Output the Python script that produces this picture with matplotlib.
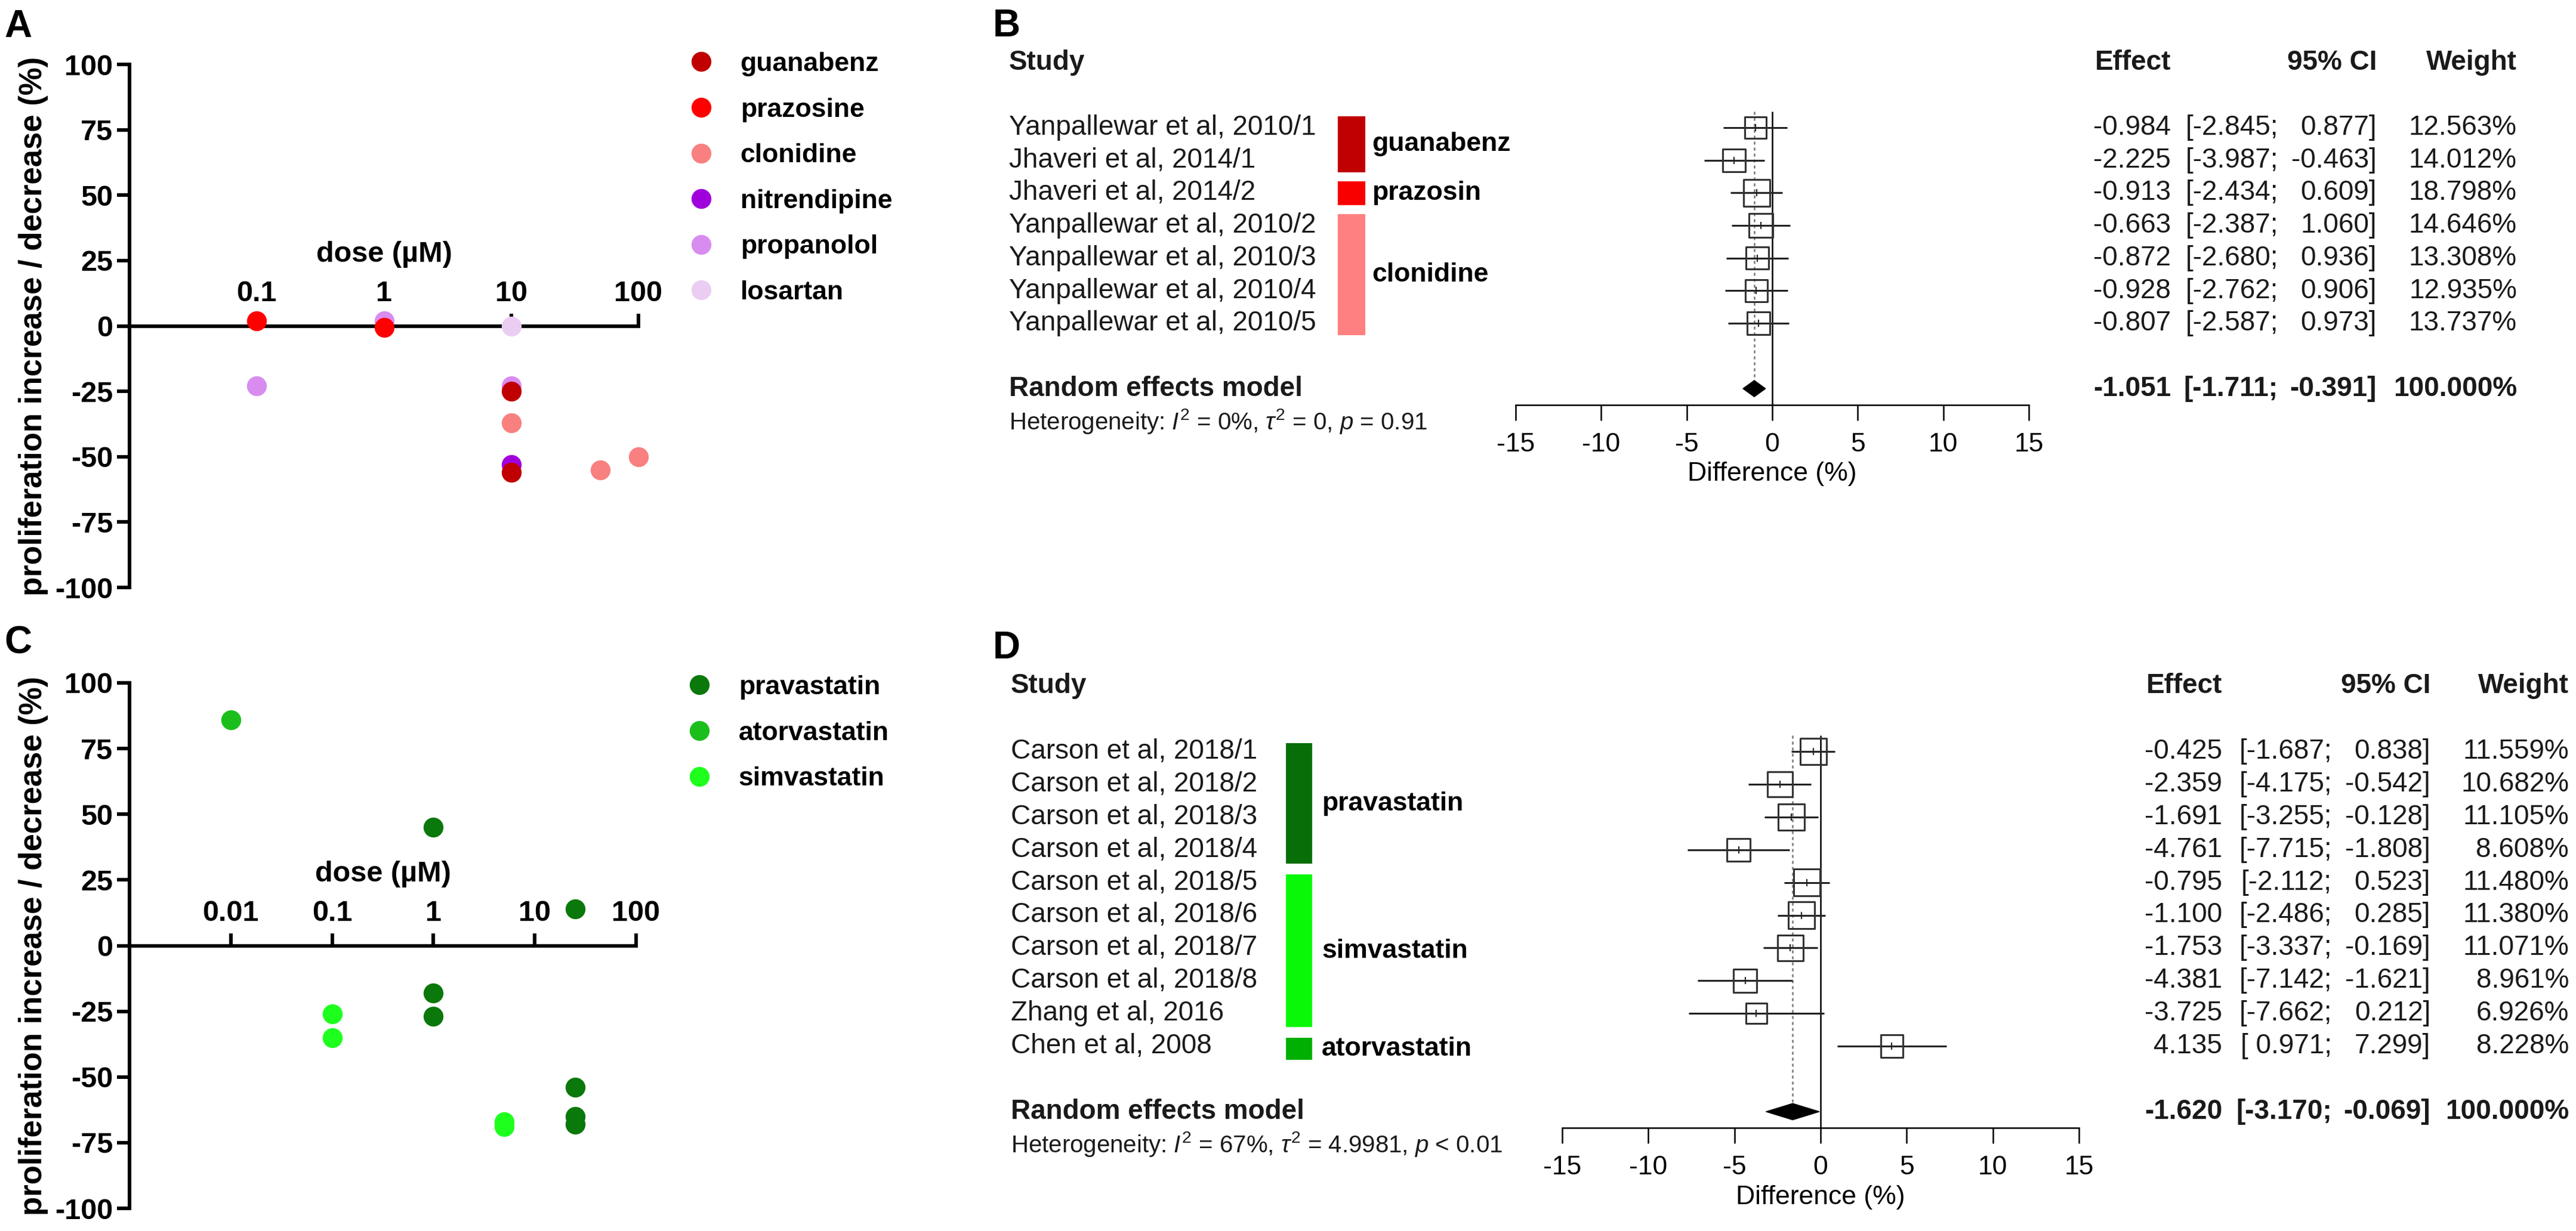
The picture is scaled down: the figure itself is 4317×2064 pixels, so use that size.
import matplotlib
matplotlib.use("Agg")
import matplotlib.pyplot as plt
import matplotlib.transforms as mtransforms
from matplotlib.patches import Rectangle
from matplotlib.lines import Line2D
from matplotlib.ticker import FixedLocator, FixedFormatter, NullLocator
import numpy as np

plt.rcParams['font.family'] = ['Liberation Sans', 'DejaVu Sans']
plt.rcParams['axes.unicode_minus'] = False
plt.rcParams['mathtext.fontset'] = 'custom'
plt.rcParams['mathtext.rm'] = 'Liberation Sans'
plt.rcParams['mathtext.it'] = 'Liberation Sans:italic'

W, H, DPI = 4317, 2064, 100

# panel A - antihypertensives, proliferation vs dose
a_drugs = ["guanabenz", "prazosine", "clonidine", "nitrendipine", "propanolol", "losartan"]
a_colors = ["#c00000", "#ff0000", "#f88080", "#a000dc", "#d98cf0", "#ebcdf3"]
a_dose = [[10, 10], [0.1, 1], [10, 50, 100], [10], [0.1, 1, 10], [10]]
a_resp = [[-25, -56], [2, -0.5], [-37, -55, -50], [-53], [-23, 2, -23], [0]]
a_ticks = [0.1, 1, 10, 100]
a_ticklabels = ["0.1", "1", "10", "100"]

# panel C - statins
c_drugs = ["pravastatin", "atorvastatin", "simvastatin"]
c_colors = ["#0a780a", "#1cbe1c", "#1eff1e"]
c_dose = [[1, 25, 1, 1, 25, 25, 25], [0.01], [0.1, 0.1, 5, 5]]
c_resp = [[45, 14, -18, -27, -54, -65, -68], [86], [-26, -35, -67, -69]]
c_ticks = [0.01, 0.1, 1, 10, 100]
c_ticklabels = ["0.01", "0.1", "1", "10", "100"]

# panel B - meta-analysis antihypertensives
b_studies = ["Yanpallewar et al, 2010/1", "Jhaveri et al, 2014/1", "Jhaveri et al, 2014/2",
             "Yanpallewar et al, 2010/2", "Yanpallewar et al, 2010/3",
             "Yanpallewar et al, 2010/4", "Yanpallewar et al, 2010/5"]
b_effect = [-0.984, -2.225, -0.913, -0.663, -0.872, -0.928, -0.807]
b_lower = [-2.845, -3.987, -2.434, -2.387, -2.680, -2.762, -2.587]
b_upper = [0.877, -0.463, 0.609, 1.060, 0.936, 0.906, 0.973]
b_weight = [12.563, 14.012, 18.798, 14.646, 13.308, 12.935, 13.737]
b_summary = [-1.051, -1.711, -0.391, 100.0]   # effect, lower, upper, weight
b_groups = ["guanabenz", "prazosin", "clonidine"]
b_group_rows = [(0, 1), (2, 2), (3, 6)]
b_group_colors = ["#c00000", "#f80000", "#ff8080"]
b_het = r"Heterogeneity: $I^2$ = 0%, $\tau^2$ = 0, $p$ = 0.91"

# panel D - meta-analysis statins
d_studies = ["Carson et al, 2018/1", "Carson et al, 2018/2", "Carson et al, 2018/3",
             "Carson et al, 2018/4", "Carson et al, 2018/5", "Carson et al, 2018/6",
             "Carson et al, 2018/7", "Carson et al, 2018/8", "Zhang et al, 2016",
             "Chen et al, 2008"]
d_effect = [-0.425, -2.359, -1.691, -4.761, -0.795, -1.100, -1.753, -4.381, -3.725, 4.135]
d_lower = [-1.687, -4.175, -3.255, -7.715, -2.112, -2.486, -3.337, -7.142, -7.662, 0.971]
d_upper = [0.838, -0.542, -0.128, -1.808, 0.523, 0.285, -0.169, -1.621, 0.212, 7.299]
d_weight = [11.559, 10.682, 11.105, 8.608, 11.480, 11.380, 11.071, 8.961, 6.926, 8.228]
d_summary = [-1.620, -3.170, -0.069, 100.0]
d_groups = ["pravastatin", "simvastatin", "atorvastatin"]
d_group_rows = [(0, 3), (4, 8), (9, 9)]
d_group_colors = ["#086e08", "#08f808", "#00b000"]
d_het = r"Heterogeneity: $I^2$ = 67%, $\tau^2$ = 4.9981, $p$ < 0.01"

fig = plt.figure(figsize=(W / DPI, H / DPI), dpi=DPI)


def px_axes(x0, y0, x1, y1):
    return fig.add_axes([x0 / W, 1 - y1 / H, (x1 - x0) / W, (y1 - y0) / H])


def dose_panel(box, xmin, ticks, ticklabels, drugs, colors, doses, resps, legend_xy):
    ax = px_axes(*box)
    ax.set_xscale("log")
    ax.set_xlim(xmin, 100)
    ax.set_ylim(-100, 100)
    ax.patch.set_visible(False)
    ax.spines["right"].set_visible(False)
    ax.spines["bottom"].set_visible(False)
    ax.spines["top"].set_position(("data", 0))
    for s in ("top", "left"):
        ax.spines[s].set_linewidth(4.3)
    ax.xaxis.set_ticks_position("top")
    ax.xaxis.set_label_position("top")
    ax.xaxis.set_major_locator(FixedLocator(ticks))
    ax.xaxis.set_major_formatter(FixedFormatter(ticklabels))
    ax.xaxis.set_minor_locator(NullLocator())
    ax.set_yticks(np.arange(-100, 101, 25))
    ax.tick_params(axis="both", width=4.3, length=15, labelsize=35)
    ax.tick_params(axis="x", pad=8)
    ax.tick_params(axis="y", pad=5)
    for lab in ax.get_xticklabels() + ax.get_yticklabels():
        lab.set_fontweight("bold")
    ax.set_xlabel("dose (µM)", fontsize=35, fontweight="bold", labelpad=22)
    ax.set_ylabel("proliferation increase / decrease (%)", fontsize=38,
                  fontweight="bold", labelpad=8)
    # later entries drawn first so the legend's first drugs sit on top
    for i in range(len(drugs) - 1, -1, -1):
        ax.plot(doses[i], resps[i], ls="", marker="o", ms=24, color=colors[i],
                mec="none", clip_on=False, zorder=4)
    handles = [Line2D([], [], ls="", marker="o", ms=24, color=c, mec="none") for c in colors]
    fig.legend(handles, drugs, loc="upper left",
               bbox_to_anchor=(legend_xy[0] / W, 1 - legend_xy[1] / H),
               frameon=False, prop={"size": 32, "weight": "bold"},
               handlelength=1.0, handletextpad=0.97, borderpad=0, borderaxespad=0,
               labelspacing=0.80)
    return ax


def forest_panel(x0, x1, row0, pitch, studies, eff, lo, hi, wt, summary, het,
                 groups, group_rows, group_colors, cols):
    n = len(studies)
    ax = px_axes(x0, row0 - 2.5 * pitch, x1, row0 + (n + 1.5) * pitch)
    ax.set_xlim(-15, 15)
    ax.set_ylim(n + 1.5, -2.5)
    ax.patch.set_visible(False)
    for s in ("top", "right", "left"):
        ax.spines[s].set_visible(False)
    ax.spines["bottom"].set_linewidth(1.8)
    ax.set_yticks([])
    ax.set_xticks(np.arange(-15, 16, 5))
    ax.tick_params(axis="x", length=19, width=1.8, labelsize=32, pad=14)
    ax.set_xlabel("Difference (%)", fontsize=32, labelpad=6)

    rows = np.arange(n)
    wt = np.asarray(wt)
    ax.hlines(rows, lo, hi, color="#222222", lw=2.2, zorder=2)
    sizes = (32 * np.sqrt(wt / wt.max())) ** 2
    ax.scatter(eff, rows, s=sizes, marker="s", facecolor="none",
               edgecolor="#333333", linewidths=2.2, zorder=3)
    ax.plot(eff, rows, ls="", marker="|", ms=8, mew=1.5, color="#222222", zorder=4)
    m, l, u, w_tot = summary
    ax.fill([l, m, u, m], [n + 1, n + 0.75, n + 1, n + 1.25], color="black", zorder=4)
    ax.vlines(0, -0.5, n + 1.5, color="black", lw=1.8, zorder=1)
    ax.vlines(m, -0.5, n + 1, color="#777777", lw=1.8, ls=(0, (2, 2)), zorder=1)

    tr = mtransforms.blended_transform_factory(fig.transFigure, ax.transData)
    fs = 33
    kw = dict(transform=tr, va="center", fontsize=fs, clip_on=False, color="#1a1a1a")
    ax.text(cols["study"] / W, -2, "Study", fontweight="bold", ha="left", **kw)
    for r, s in enumerate(studies):
        ax.text(cols["study"] / W, r, s, ha="left", **kw)
    ax.text(cols["study"] / W, n + 1, "Random effects model", fontweight="bold", ha="left", **kw)
    kw_het = dict(kw)
    kw_het["fontsize"] = 29
    ax.text(cols["study"] / W, n + 2, het, ha="left", **kw_het)

    # drug group bars
    for g, (r0, r1), c in zip(groups, group_rows, group_colors):
        top = r0 - cols["pad_top"]
        bot = r1 + cols["pad_bot"]
        ax.add_patch(Rectangle((cols["bar0"] / W, top), (cols["bar1"] - cols["bar0"]) / W,
                               bot - top, transform=tr, color=c, clip_on=False, lw=0))
        ax.text(cols["glabel"] / W, (top + bot) / 2, g, transform=tr, ha="left", va="center",
                fontsize=32, fontweight="bold", clip_on=False)

    # table columns
    ax.text(cols["effect"] / W, -2, "Effect", ha="right", fontweight="bold", **kw)
    ax.text(cols["ci"] / W, -2, "95% CI", ha="right", fontweight="bold", **kw)
    ax.text(cols["weight"] / W, -2, "Weight", ha="right", fontweight="bold", **kw)
    gap = 165
    for r in range(n):
        ax.text(cols["effect"] / W, r, f"{eff[r]:.3f}", ha="right", **kw)
        ax.text((cols["ci"] - gap) / W, r, f"[{lo[r]:6.3f};", ha="right", **kw)
        ax.text(cols["ci"] / W, r, f"{hi[r]:.3f}]", ha="right", **kw)
        ax.text(cols["weight"] / W, r, f"{wt[r]:.3f}%", ha="right", **kw)
    ax.text(cols["effect"] / W, n + 1, f"{m:.3f}", ha="right", fontweight="bold", **kw)
    ax.text((cols["ci"] - gap) / W, n + 1, f"[{l:.3f};", ha="right", fontweight="bold", **kw)
    ax.text(cols["ci"] / W, n + 1, f"{u:.3f}]", ha="right", fontweight="bold", **kw)
    ax.text(cols["weight"] / W, n + 1, f"{w_tot:.3f}%", ha="right", fontweight="bold", **kw)
    return ax


dose_panel((217, 108, 1070, 985), 0.01, a_ticks, a_ticklabels, a_drugs, a_colors,
           a_dose, a_resp, (1153, 87))
dose_panel((217, 1145, 1066, 2026), 0.001, c_ticks, c_ticklabels, c_drugs, c_colors,
           c_dose, c_resp, (1150, 1132))

forest_panel(2540, 3400, 214, 54.7, b_studies, b_effect, b_lower, b_upper, b_weight,
             b_summary, b_het, b_groups, b_group_rows, b_group_colors,
             dict(study=1691, bar0=2242, bar1=2288, glabel=2299, pad_top=0.35, pad_bot=0.37,
                  effect=3638, ci=3983, weight=4218))
forest_panel(2618, 3484, 1260, 54.9, d_studies, d_effect, d_lower, d_upper, d_weight,
             d_summary, d_het, d_groups, d_group_rows, d_group_colors,
             dict(study=1694, bar0=2155, bar1=2199, glabel=2215, pad_top=0.25, pad_bot=0.42,
                  effect=3724, ci=4073, weight=4305))

for letter, x, y in [("A", 7, 62), ("C", 7, 1095), ("B", 1664, 61), ("D", 1664, 1104)]:
    fig.text(x / W, 1 - y / H, letter, fontsize=46, fontweight="bold", va="baseline", ha="left")

fig.savefig("out.png", dpi=DPI)
